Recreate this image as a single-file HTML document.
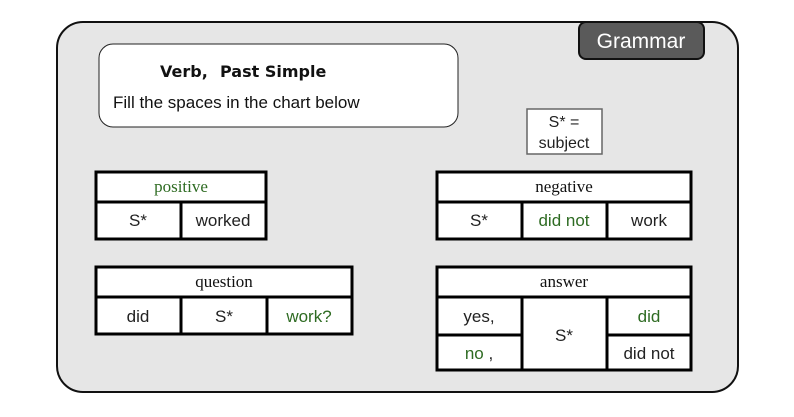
<!DOCTYPE html>
<html><head><meta charset="utf-8"><style>
html,body{margin:0;padding:0;background:#fff;width:794px;height:417px;overflow:hidden}
svg{display:block}
.s{font-family:"Liberation Sans",sans-serif;font-size:17px;fill:#222}
.r{font-family:"Liberation Serif",serif;font-size:17px;fill:#111}
.g{fill:#2e6b22}
</style></head><body>
<svg width="794" height="417" viewBox="0 0 794 417">
<rect x="57" y="22" width="681" height="370" rx="26" fill="#e6e6e6" stroke="#111" stroke-width="2"/>
<rect x="579" y="22" width="125" height="37" rx="7" fill="#5a5a5a" stroke="#111" stroke-width="2"/>
<text x="641" y="48" text-anchor="middle" font-family="Liberation Sans,sans-serif" font-size="21" fill="#fff">Grammar</text>
<rect x="99" y="44" width="359" height="83" rx="14" fill="#fff" stroke="#222" stroke-width="1"/>
<text x="160" y="77" font-family="DejaVu Sans,sans-serif" font-weight="bold" font-size="16" fill="#111">Verb,<tspan x="220">Past Simple</tspan></text>
<text x="113" y="108" class="s" style="font-size:17px;fill:#111">Fill the spaces in the chart below</text>
<rect x="527" y="109" width="75" height="45" fill="#fff" stroke="#666" stroke-width="1.5"/>
<text x="564" y="127" text-anchor="middle" class="s" style="font-size:16px">S* =</text>
<text x="564" y="148" text-anchor="middle" class="s" style="font-size:16px">subject</text>

<g stroke="#000" stroke-width="3" fill="#fff">
<rect x="96" y="172" width="170" height="67"/>
<line x1="96" y1="202" x2="266" y2="202"/>
<line x1="181" y1="202" x2="181" y2="239"/>

<rect x="437" y="172" width="254" height="67"/>
<line x1="437" y1="202" x2="691" y2="202"/>
<line x1="522" y1="202" x2="522" y2="239"/>
<line x1="607" y1="202" x2="607" y2="239"/>

<rect x="96" y="267" width="256" height="67"/>
<line x1="96" y1="297" x2="352" y2="297"/>
<line x1="181" y1="297" x2="181" y2="334"/>
<line x1="267" y1="297" x2="267" y2="334"/>

<rect x="437" y="267" width="254" height="103"/>
<line x1="437" y1="297" x2="691" y2="297"/>
<line x1="522" y1="297" x2="522" y2="370"/>
<line x1="607" y1="297" x2="607" y2="370"/>
<line x1="437" y1="335" x2="522" y2="335"/>
<line x1="607" y1="335" x2="691" y2="335"/>
</g>

<g text-anchor="middle">
<text x="181" y="192" class="r g">positive</text>
<text x="138" y="226" class="s">S*</text>
<text x="223" y="226" class="s">worked</text>

<text x="564" y="192" class="r">negative</text>
<text x="479" y="226" class="s">S*</text>
<text x="564" y="226" class="s g">did not</text>
<text x="649" y="226" class="s">work</text>

<text x="224" y="287" class="r">question</text>
<text x="138" y="322" class="s">did</text>
<text x="224" y="322" class="s">S*</text>
<text x="309" y="322" class="s g">work?</text>

<text x="564" y="287" class="r">answer</text>
<text x="479" y="322" class="s">yes,</text>
<text x="479" y="359" class="s"><tspan class="g">no</tspan> ,</text>
<text x="564" y="341" class="s">S*</text>
<text x="649" y="322" class="s g">did</text>
<text x="649" y="359" class="s">did not</text>
</g>
</svg>
</body></html>
